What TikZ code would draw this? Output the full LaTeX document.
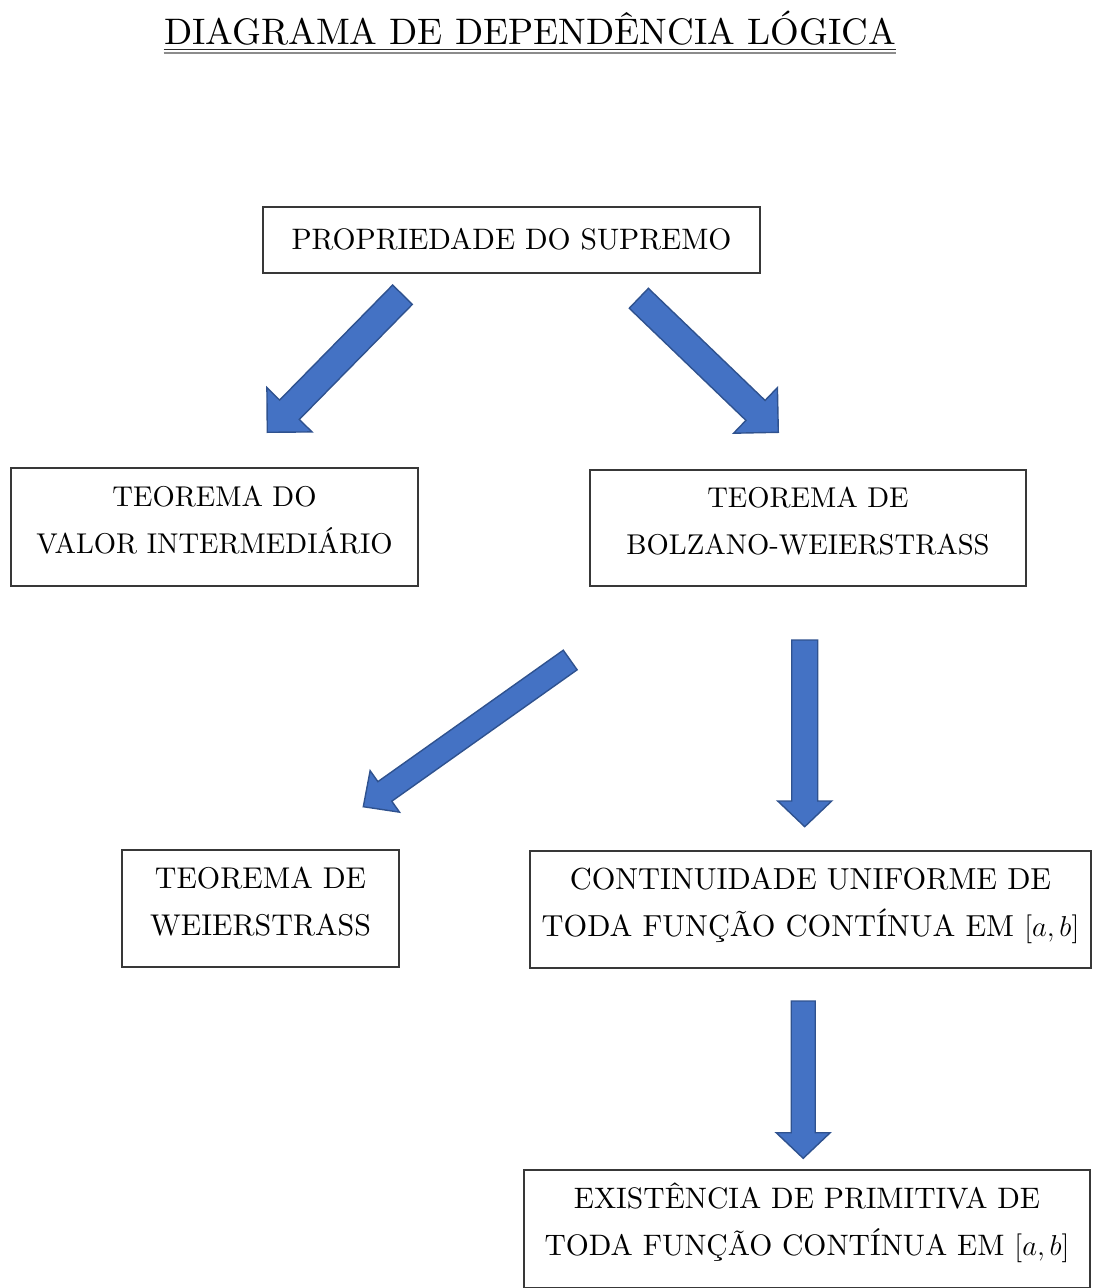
\documentclass[tikz,border=0pt]{standalone}
\usepackage{fontspec}
\usepackage{amsmath}
\setmainfont{lmroman10-regular.otf}
\usetikzlibrary{calc}

\definecolor{azul}{HTML}{4472C4}
\definecolor{azulborda}{HTML}{2F528F}

\tikzset{
    caixa/.style={draw=black!78, line width=0.9pt, align=center, inner xsep=0pt,
        font=\fontsize{14.3}{23.3}\selectfont, text height=10pt, text depth=30.3pt},
    seta/.style={fill=azul, draw=azulborda, line width=0.7pt, line join=miter},
}

% block arrow: tail, tip, half shaft width, half head width, head length
\newcommand{\setabloco}[5]{%
    \path ($(#2)!#5!(#1)$) coordinate (base);
    \draw[seta] ($(#1)!#3!90:(#2)$) -- ($(base)!#3!90:(#2)$) -- ($(base)!#4!90:(#2)$)
        -- (#2) -- ($(base)!#4!-90:(#2)$) -- ($(base)!#3!-90:(#2)$)
        -- ($(#1)!#3!-90:(#2)$) -- cycle;
}

\begin{document}
\begin{tikzpicture}[x=0.5pt, y=-0.5pt]
    \useasboundingbox (0,0) rectangle (1092,1288);

    % Title
    \node[anchor=base, inner sep=0pt, font=\fontsize{18.45}{23}\selectfont] (titulo) at (530,45)
        {DIAGRAMA DE DEPENDÊNCIA LÓGICA};
    \draw[black!85, line width=0.5pt] ([yshift=-2.5pt]titulo.base west) -- ([yshift=-2.5pt]titulo.base east);
    \draw[black!45, line width=0.8pt] ([yshift=-3.9pt]titulo.base west) -- ([yshift=-3.9pt]titulo.base east);

    % Define nodes
    \node[caixa, text width=248.5pt, minimum height=33pt, text depth=0pt,
        font=\fontsize{14.8}{23.3}\selectfont] (supremo) at (511.5,240)
        {PROPRIEDADE DO SUPREMO};
    \node[caixa, text width=203.3pt, minimum height=59pt] (tvi) at (214.5,526.7)
        {TEOREMA DO\\ VALOR INTERMEDIÁRIO};
    \node[caixa, text width=218pt, minimum height=58pt] (bw) at (808,528)
        {TEOREMA DE\\ BOLZANO-WEIERSTRASS};
    \node[caixa, text width=138.5pt, minimum height=58.3pt,
        font=\fontsize{15}{23.6}\selectfont] (weier) at (260.5,908.3)
        {TEOREMA DE\\ WEIERSTRASS};
    \node[caixa, text width=280.5pt, minimum height=58.5pt,
        font=\fontsize{15.2}{23.6}\selectfont] (unif) at (810.5,909.5)
        {CONTINUIDADE UNIFORME DE\\ TODA FUNÇÃO CONTÍNUA EM $[a,b]$};
    \node[caixa, text width=283pt, minimum height=59pt,
        font=\fontsize{14.8}{23.6}\selectfont] (prim) at (807,1229)
        {EXISTÊNCIA DE PRIMITIVA DE\\ TODA FUNÇÃO CONTÍNUA EM $[a,b]$};

    % Arrow ends
    \coordinate (cauda1) at (402.5,294.7);  \coordinate (ponta1) at (267.3,432.3);
    \coordinate (cauda2) at (638.8,298.3);  \coordinate (ponta2) at (778.3,432.3);
    \coordinate (cauda3) at (570.2,660);    \coordinate (ponta3) at (363.3,806.7);
    \coordinate (cauda4) at (804.7,640);    \coordinate (ponta4) at (804.7,826.7);
    \coordinate (cauda5) at (803.2,1001);   \coordinate (ponta5) at (803.2,1158.3);

    % Draw arrows
    \setabloco{cauda1}{ponta1}{6.9pt}{15.8pt}{15.8pt}
    \setabloco{cauda2}{ponta2}{6.9pt}{15.8pt}{15.8pt}
    \setabloco{cauda3}{ponta3}{6pt}{12.7pt}{13.2pt}
    \setabloco{cauda4}{ponta4}{6.5pt}{13.5pt}{12.85pt}
    \setabloco{cauda5}{ponta5}{6pt}{13.5pt}{12.8pt}
\end{tikzpicture}
\end{document}
